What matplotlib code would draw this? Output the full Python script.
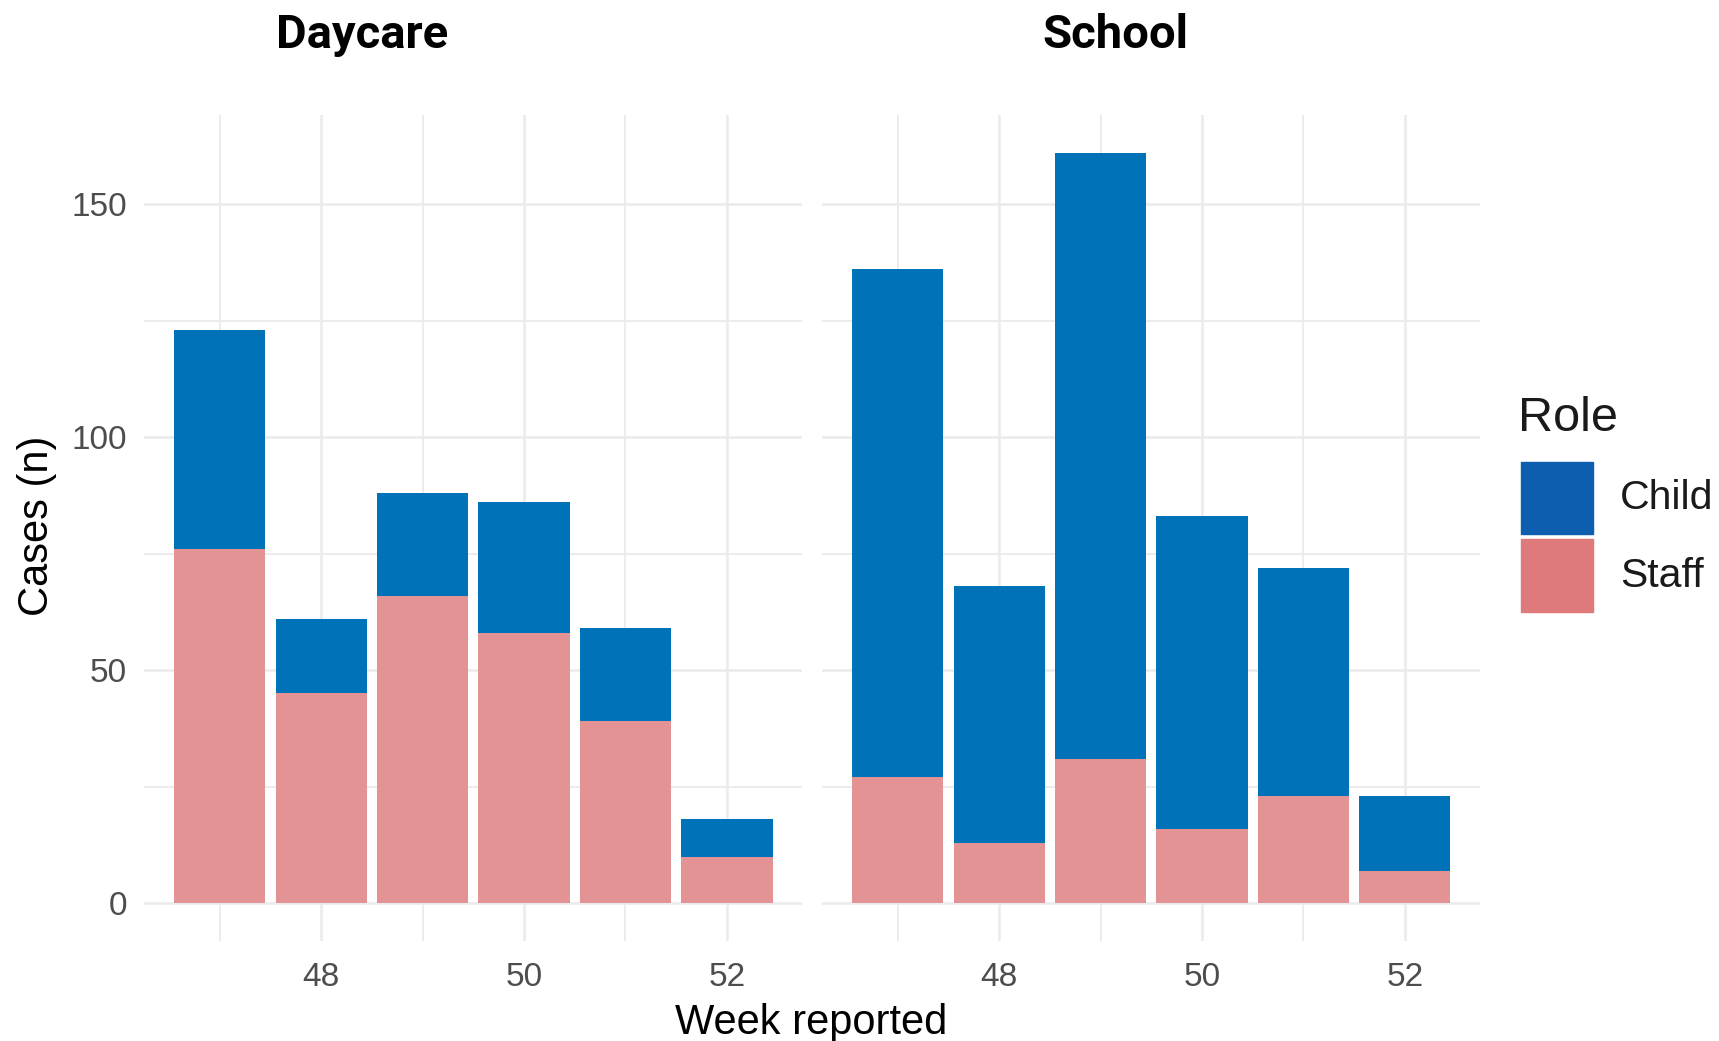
import matplotlib
matplotlib.use("Agg")
import matplotlib.pyplot as plt
from matplotlib.patches import Rectangle

# data
weeks = [47, 48, 49, 50, 51, 52]
daycare_staff = [76, 45, 66, 58, 39, 10]
daycare_child = [47, 16, 22, 28, 20, 8]
school_staff = [27, 13, 31, 16, 23, 7]
school_child = [109, 55, 130, 67, 49, 16]
panels = ["Daycare", "School"]
roles = ["Child", "Staff"]

# style
child_col = "#0072B8"
staff_col = "#E49394"
grid_col = "#EBEBEB"
tick_col = "#4D4D4D"
font = "Liberation Sans"

fig = plt.figure(figsize=(17.19, 10.41), dpi=100)
fig.patch.set_facecolor("white")

ax1 = fig.add_axes([0.0839, 0.0963, 0.3829, 0.7930])
ax2 = fig.add_axes([0.4783, 0.0963, 0.3829, 0.7930])

series = [(ax1, daycare_staff, daycare_child), (ax2, school_staff, school_child)]
for ax, staff, child in series:
    ax.bar(weeks, staff, width=0.9, color=staff_col, zorder=3)
    ax.bar(weeks, child, width=0.9, bottom=staff, color=child_col, zorder=3)

    ax.set_xlim(46.255, 52.745)
    ax.set_ylim(-8.05, 169.05)
    ax.set_xticks([48, 50, 52])
    ax.set_xticks([47, 49, 51], minor=True)
    ax.set_yticks([0, 50, 100, 150])
    ax.set_yticks([25, 75, 125], minor=True)
    ax.grid(True, which="major", color=grid_col, lw=1.8, zorder=0)
    ax.grid(True, which="minor", color=grid_col, lw=1.3, zorder=0)
    for s in ax.spines.values():
        s.set_visible(False)
    ax.tick_params(which="both", length=0)
    ax.tick_params(axis="x", pad=15, labelsize=24, labelcolor=tick_col)
    ax.tick_params(axis="y", pad=12.5, labelsize=24, labelcolor=tick_col)
    for lab in ax.get_xticklabels() + ax.get_yticklabels():
        lab.set_fontfamily(font)

ax2.set_yticklabels([])

# panel titles
fig.text(0.2105, 0.966, panels[0], ha="center", va="center",
         fontsize=34, fontweight="bold", family="Roboto")
fig.text(0.6486, 0.966, panels[1], ha="center", va="center",
         fontsize=34, fontweight="bold", family="Roboto")

# axis titles
fig.text(0.472, 0.0067, "Week reported", ha="center", va="baseline",
         fontsize=30, family=font)
fig.text(0.0217, 0.495, "Cases (n)", ha="center", va="center",
         rotation=90, fontsize=30, family=font)

# legend
fig.text(0.8833, 0.5862, "Role", ha="left", va="baseline",
         fontsize=35, family=font, color="#1A1A1A")
fig.patches.append(Rectangle((0.8846, 0.487), 0.0421, 0.0696,
                             transform=fig.transFigure, color="#0E5EAF"))
fig.patches.append(Rectangle((0.8846, 0.4124), 0.0421, 0.0695,
                             transform=fig.transFigure, color="#DE7A7B"))
fig.text(0.9426, 0.5219, roles[0], ha="left", va="center",
         fontsize=29.5, family=font, color="#1A1A1A")
fig.text(0.9426, 0.447, roles[1], ha="left", va="center",
         fontsize=29.5, family=font, color="#1A1A1A")

fig.savefig("out.png", dpi=100, facecolor="white")
